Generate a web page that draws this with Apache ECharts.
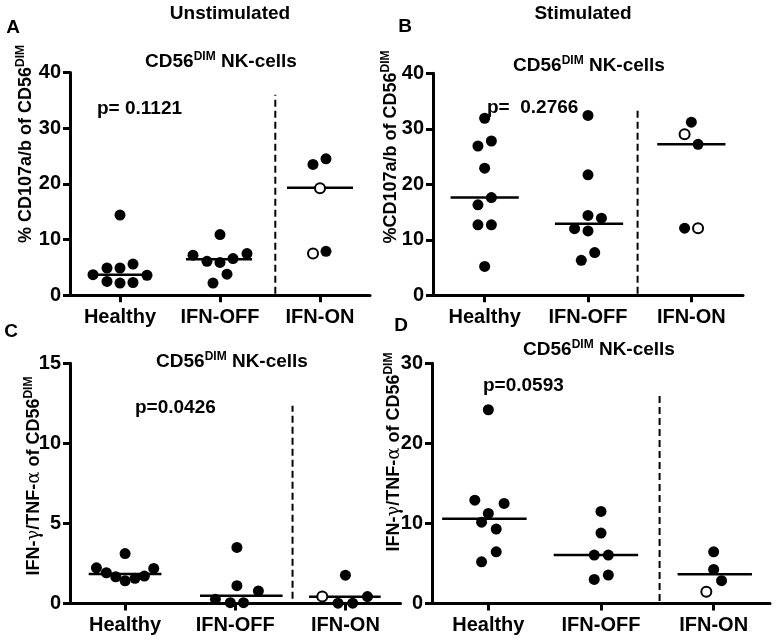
<!DOCTYPE html>
<html>
<head>
<meta charset="utf-8">
<script src="https://cdn.jsdelivr.net/npm/echarts@6/dist/echarts.min.js"></script>
<style>
  html, body { margin: 0; padding: 0; background: #fff; }
  #chart { width: 776px; height: 642px; }
</style>
</head>
<body>
<div id="chart"></div>
<script>
  const groups = ['Healthy', 'IFN-OFF', 'IFN-ON']

  // [x (0 = Healthy, 1 = IFN-OFF, 2 = IFN-ON, with jitter), value]
  const aFilled = [[0, 14.4], [-0.27, 3.7], [-0.13, 4.9], [0, 4.9], [0.13, 5.6], [0.27, 3.6], [-0.13, 2.5], [0, 2.2], [0.13, 2.3],
    [0.73, 7.2], [0.87, 6.1], [1, 5.9], [1.13, 6.6], [1.27, 7.5], [1, 10.9], [1.07, 3.8], [0.93, 2.2],
    [1.93, 23.5], [2.06, 24.5], [2.06, 7.9]]
  const aOpen = [[2, 19.2], [1.93, 7.5]]
  const aMedians = [[-0.32, 0.32, 3.7], [0.66, 1.32, 6.45], [1.67, 2.33, 19.3]]
  const aDivider = [1.553, 36]

  const bFilled = [[0, 31.9], [-0.065, 26.9], [0.065, 27.8], [0, 22.9], [0.065, 17.6], [-0.065, 16.3], [-0.065, 12.7], [0.065, 12.7], [0, 5.2],
    [1, 32.4], [1, 21.7], [1, 14.4], [1.13, 13.9], [0.87, 12.0], [1, 11.6], [1.065, 7.7], [0.935, 6.3],
    [2.0, 31.2], [2.065, 27.2], [1.935, 12.1]]
  const bOpen = [[1.935, 29.0], [2.065, 12.1]]
  const bMedians = [[-0.33, 0.33, 17.6], [0.68, 1.34, 12.9], [1.67, 2.33, 27.2]]
  const bDivider = [1.48, 33.6]

  const cFilled = [[0, 3.12], [-0.26, 2.23], [-0.17, 1.92], [-0.085, 1.67], [0, 1.42], [0.09, 1.57], [0.175, 1.71], [0.26, 2.19],
    [1.015, 3.5], [1.015, 1.11], [1.21, 0.78], [0.82, 0.26], [0.955, 0.05], [1.075, 0.05],
    [2, 1.77], [2.2, 0.43], [1.933, 0.02], [2.066, 0.02]]
  const cOpen = [[1.79, 0.43]]
  const cMedians = [[-0.33, 0.33, 1.84], [0.68, 1.43, 0.49], [1.67, 2.32, 0.42]]
  const cDivider = [1.52, 12.35]

  const dFilled = [[0, 24.2], [-0.12, 12.9], [0.14, 12.5], [0, 11.25], [-0.06, 10.15], [0.07, 9.3], [0.07, 6.45], [-0.06, 5.2],
    [1, 11.5], [1, 8.8], [0.94, 6.05], [1.065, 6.05], [0.94, 3.0], [1.065, 3.55],
    [2, 6.45], [2, 4.25], [2.07, 2.85]]
  const dOpen = [[1.935, 1.47]]
  const dMedians = [[-0.41, 0.34, 10.6], [0.58, 1.33, 6.05], [1.68, 2.34, 3.64]]
  const dDivider = [1.52, 26.4]

  const yMax = [40, 40, 15, 30]
  const yStep = [10, 10, 5, 10]
  const pTexts = ['p= 0.1121', 'p=  0.2766', 'p=0.0426', 'p=0.0593']

  const font = '"Liberation Sans", Arial, sans-serif'
  const grids = [
    { left: 70, top: 72.5, width: 300, height: 222.8 },
    { left: 433, top: 73.3, width: 310, height: 222 },
    { left: 70, top: 363.3, width: 330.5, height: 240.2 },
    { left: 432, top: 363.3, width: 338, height: 240.2 }
  ]

  // hidden value axis for the points, visible category axis for ticks and labels
  function xAxes (i) {
    return [{
      gridIndex: i, type: 'value', position: 'bottom', min: -0.5, max: 2.5, show: false
    }, {
      gridIndex: i, type: 'category', position: 'bottom', data: groups, boundaryGap: true,
      splitLine: { show: false },
      axisLine: { show: true, onZero: false, lineStyle: { color: '#000', width: 3 } },
      axisTick: { show: true, alignWithLabel: true, interval: 0, length: 7, lineStyle: { color: '#000', width: 3 } },
      axisLabel: { interval: 0, margin: 12, color: '#000', fontSize: 20, fontWeight: 'bold', fontFamily: font }
    }]
  }

  function yAxis (i) {
    return {
      gridIndex: i, type: 'value', position: 'left', min: 0, max: yMax[i], interval: yStep[i],
      splitLine: { show: false },
      axisLine: { show: true, onZero: false, lineStyle: { color: '#000', width: 3 } },
      axisTick: { show: true, inside: false, length: 7, lineStyle: { color: '#000', width: 3 } },
      axisLabel: { margin: 9, color: '#000', fontSize: 20, fontWeight: 'bold', fontFamily: font }
    }
  }

  function panelSeries (i, filled, open, medians, divider) {
    const xi = i * 2
    const list = []
    list.push({
      type: 'line', xAxisIndex: xi, yAxisIndex: i, silent: true, showSymbol: false, z: 1,
      data: [[divider[0], 0.3], [divider[0], divider[1]]],
      lineStyle: { color: '#000', width: 2, type: [7, 4] }
    })
    medians.forEach(function (m) {
      list.push({
        type: 'line', xAxisIndex: xi, yAxisIndex: i, silent: true, showSymbol: false, z: 2,
        data: [[m[0], m[2]], [m[1], m[2]]],
        lineStyle: { color: '#000', width: 2.5 }
      })
    })
    list.push({
      type: 'scatter', xAxisIndex: xi, yAxisIndex: i, z: 3,
      symbolSize: 11, data: filled, itemStyle: { color: '#000', opacity: 1 }
    })
    list.push({
      type: 'scatter', xAxisIndex: xi, yAxisIndex: i, z: 3,
      symbolSize: 10, data: open, itemStyle: { color: '#fff', borderColor: '#000', borderWidth: 2, opacity: 1 }
    })
    return list
  }

  function txt (x, y, text, size, align) {
    return {
      type: 'text', x: x, y: y, silent: true,
      style: {
        text: text, font: 'bold ' + size + 'px ' + font, fill: '#000',
        textAlign: align || 'center', textVerticalAlign: 'middle'
      }
    }
  }

  function titleText (x, y) {
    return {
      type: 'text', x: x, y: y, silent: true,
      style: {
        text: '{b|CD56}{s|DIM}{b| NK-cells}', fill: '#000',
        textAlign: 'center', textVerticalAlign: 'middle',
        rich: {
          b: { fontSize: 19, fontWeight: 'bold', fontFamily: font, lineHeight: 22 },
          s: { fontSize: 12, fontWeight: 'bold', fontFamily: font, lineHeight: 12, verticalAlign: 'top' }
        }
      }
    }
  }

  function yName (x, y, main) {
    const rich = {
      b: { fontSize: 18, fontWeight: 'bold', fontFamily: font, lineHeight: 22 },
      g: { fontSize: 18, fontWeight: 'normal', fontFamily: '"DejaVu Serif", serif', lineHeight: 22 },
      s: { fontSize: 12, fontWeight: 'bold', fontFamily: font, lineHeight: 12, verticalAlign: 'top' }
    }
    return {
      type: 'text', x: x, y: y, rotation: Math.PI / 2, silent: true,
      style: { text: main, fill: '#000', textAlign: 'center', textVerticalAlign: 'middle', rich: rich }
    }
  }

  const chart = echarts.init(document.getElementById('chart'), null, { renderer: 'canvas' })
  chart.setOption({
    animation: false,
    backgroundColor: '#fff',
    grid: grids.map(function (g) { return Object.assign({ containLabel: false, outerBoundsMode: 'none' }, g) }),
    xAxis: [].concat(xAxes(0), xAxes(1), xAxes(2), xAxes(3)),
    yAxis: [0, 1, 2, 3].map(yAxis),
    series: [].concat(
      panelSeries(0, aFilled, aOpen, aMedians, aDivider),
      panelSeries(1, bFilled, bOpen, bMedians, bDivider),
      panelSeries(2, cFilled, cOpen, cMedians, cDivider),
      panelSeries(3, dFilled, dOpen, dMedians, dDivider)
    ),
    graphic: [
      txt(230, 14, 'Unstimulated', 19),
      txt(583, 14, 'Stimulated', 19),
      txt(13, 28, 'A', 19),
      txt(405, 27, 'B', 19),
      txt(11, 332, 'C', 19),
      txt(401, 326, 'D', 19),
      titleText(221, 62),
      titleText(589, 66),
      titleText(232, 362),
      titleText(599, 350),
      txt(97, 109, pTexts[0], 19, 'left'),
      txt(487, 108, pTexts[1], 19, 'left'),
      txt(135, 408, pTexts[2], 19, 'left'),
      txt(483, 386, pTexts[3], 19, 'left'),
      yName(26, 144, '{b|% CD107a/b of CD56}{s|DIM}'),
      yName(391, 147, '{b|%CD107a/b of CD56}{s|DIM}'),
      yName(34, 476, '{b|IFN-}{g|γ}{b|/TNF-}{g|α}{b| of CD56}{s|DIM}'),
      yName(394, 452, '{b|IFN-}{g|γ}{b|/TNF-}{g|α}{b| of CD56}{s|DIM}')
    ]
  })
</script>
</body>
</html>
